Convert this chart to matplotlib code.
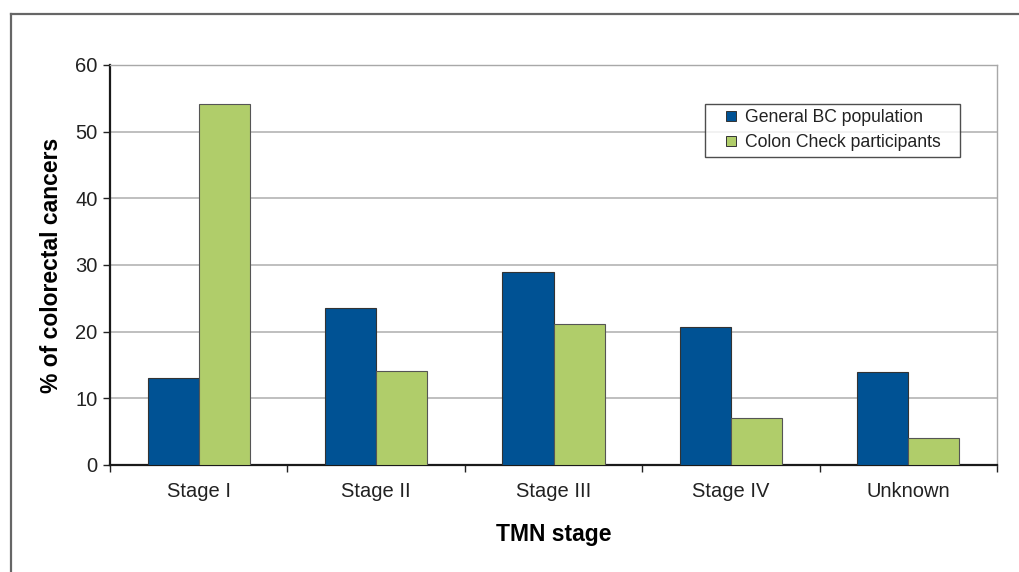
import matplotlib.pyplot as plt
import numpy as np
from matplotlib.lines import Line2D

plt.rcParams['font.family'] = ['Liberation Sans', 'DejaVu Sans']

# Dados
estagios = ["Stage I", "Stage II", "Stage III", "Stage IV", "Unknown"]
populacao_geral = [13.0, 23.5, 28.9, 20.7, 14.0]
colon_check = [54.1, 14.1, 21.2, 7.1, 4.0]
series = ["General BC population", "Colon Check participants"]
cores = ["#005294", "#b0cd6a"]

fig = plt.figure(figsize=(10.19, 5.72), dpi=100)
ax = fig.add_axes([110 / 1019, 1 - 465 / 572, 887 / 1019, 400 / 572])

x = np.arange(len(estagios))
largura = 0.288
ax.bar(x - largura / 2, populacao_geral, largura, color=cores[0],
       edgecolor="#333333", linewidth=0.8, label=series[0], zorder=3)
ax.bar(x + largura / 2, colon_check, largura, color=cores[1],
       edgecolor="#555555", linewidth=0.8, label=series[1], zorder=3)

ax.set_xlim(-0.5, len(estagios) - 0.5)
ax.set_ylim(0, 60)
ax.set_yticks(range(0, 61, 10))
ax.yaxis.grid(True, color="#b4b4b4", linewidth=1.2, zorder=0)

# Ticks do eixo x nas fronteiras entre categorias
ax.set_xticks(np.arange(-0.5, len(estagios), 1))
ax.set_xticklabels([])
ax.set_xticks(x, minor=True)
ax.set_xticklabels(estagios, minor=True)
ax.tick_params(axis="x", which="major", length=5, width=1, color="#222222")
ax.tick_params(axis="x", which="minor", length=0, pad=12, labelsize=14.5, labelcolor="#222222")
ax.tick_params(axis="y", length=5, width=1, color="#222222", labelsize=14.5, labelcolor="#222222", pad=4)

for lado in ["left", "bottom"]:
    ax.spines[lado].set_color("#1a1a1a")
    ax.spines[lado].set_linewidth(1.6)
for lado in ["top", "right"]:
    ax.spines[lado].set_color("#a8a8a8")
    ax.spines[lado].set_linewidth(1.0)

ax.set_ylabel("% of colorectal cancers", fontsize=16.5, fontweight="bold", labelpad=9)
ax.set_xlabel("TMN stage", fontsize=16.5, fontweight="bold", labelpad=16)

handles = [Line2D([], [], marker="s", linestyle="none", markersize=7,
                  markerfacecolor=c, markeredgecolor="#333333", markeredgewidth=0.7)
           for c in cores]
leg = ax.legend(handles, series, loc="upper left",
                bbox_to_anchor=(595 / 887, 1 - 92 / 400, 255 / 887, 53 / 400), mode="expand",
                fontsize=12.7, frameon=True, fancybox=False, edgecolor="#222222",
                handlelength=2.4, handletextpad=-0.45, borderpad=0.3, labelspacing=0.45,
                borderaxespad=0)
leg.get_frame().set_linewidth(1.0)
for t in leg.get_texts():
    t.set_color("#222222")

# Moldura externa da figura
fig.add_artist(Line2D([11 / 1019, 11 / 1019], [0, 1 - 14 / 572], color="#666666", linewidth=1.6))
fig.add_artist(Line2D([11 / 1019, 1], [1 - 14 / 572, 1 - 14 / 572], color="#666666", linewidth=1.6))

fig.savefig("out.png", dpi=100)
